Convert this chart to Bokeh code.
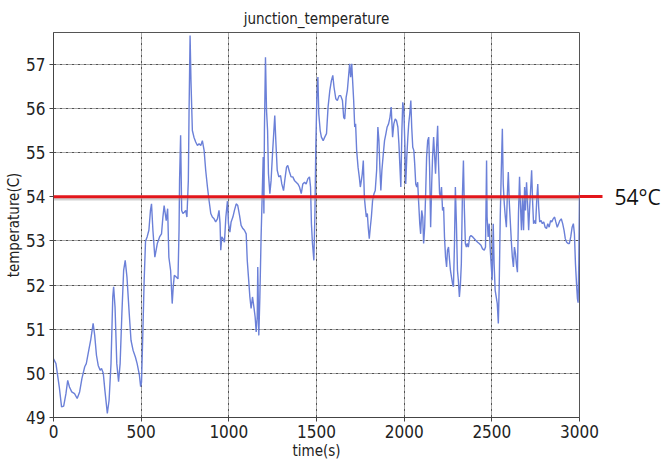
from bokeh.plotting import figure
from bokeh.models import Range1d, Span, FixedTicker, LinearAxis
from bokeh.embed import file_html
from bokeh.resources import INLINE

title_text = "junction_temperature"
x_label = "time(s)"
y_label = "temperature(C)"
threshold = 54
threshold_label = "54°C"
x_ticks = [0, 500, 1000, 1500, 2000, 2500, 3000]
y_ticks = [49, 50, 51, 52, 53, 54, 55, 56, 57]

time_s = [
    0, 14, 33, 46, 58, 71, 81, 91, 104, 120, 135, 149, 162, 178, 187, 201, 212, 226, 235, 245,
    255, 266, 274, 284, 293, 307, 317, 328, 338, 343, 351, 361, 371, 380, 390, 400, 409, 419, 432, 442,
    454, 467, 477, 490, 497, 502, 510, 517, 525, 534, 544, 553, 559, 567, 578, 592, 605, 616, 624, 631,
    643, 651, 658, 668, 677, 683, 689, 700, 710, 716, 719, 725, 731, 738, 746, 754, 761, 769, 773, 779,
    784, 792, 801, 811, 821, 830, 840, 849, 859, 868, 878, 887, 897, 906, 916, 925, 935, 944, 950, 954,
    960, 967, 975, 983, 992, 998, 1006, 1013, 1023, 1032, 1042, 1051, 1061, 1070, 1080, 1089, 1099, 1105, 1112, 1120,
    1127, 1135, 1143, 1150, 1156, 1162, 1165, 1171, 1177, 1184, 1190, 1196, 1200, 1203, 1209, 1215, 1221, 1226, 1234, 1241,
    1249, 1257, 1262, 1268, 1276, 1285, 1295, 1302, 1312, 1319, 1329, 1336, 1346, 1355, 1365, 1374, 1384, 1394, 1403, 1413,
    1422, 1432, 1441, 1451, 1460, 1466, 1471, 1477, 1485, 1491, 1496, 1502, 1508, 1513, 1521, 1528, 1538, 1547, 1557, 1566,
    1576, 1585, 1593, 1600, 1610, 1619, 1629, 1638, 1648, 1655, 1661, 1669, 1676, 1684, 1689, 1695, 1701, 1706, 1712, 1718,
    1723, 1729, 1737, 1744, 1750, 1756, 1761, 1767, 1773, 1778, 1784, 1790, 1795, 1801, 1807, 1813, 1820, 1828, 1835, 1843,
    1850, 1856, 1862, 1867, 1873, 1881, 1888, 1896, 1903, 1911, 1919, 1926, 1934, 1941, 1949, 1956, 1964, 1970, 1975, 1981,
    1987, 1992, 1998, 2004, 2009, 2015, 2021, 2026, 2032, 2038, 2043, 2049, 2055, 2060, 2066, 2072, 2077, 2083, 2089, 2094,
    2100, 2106, 2111, 2117, 2123, 2128, 2134, 2140, 2145, 2151, 2157, 2162, 2168, 2174, 2179, 2185, 2191, 2196, 2202, 2208,
    2213, 2219, 2225, 2230, 2236, 2242, 2247, 2253, 2259, 2264, 2270, 2276, 2281, 2287, 2292, 2298, 2304, 2309, 2315, 2321,
    2326, 2332, 2338, 2343, 2349, 2355, 2360, 2366, 2374, 2381, 2391, 2400, 2409, 2419, 2428, 2438, 2447, 2457, 2464, 2470,
    2473, 2479, 2485, 2490, 2496, 2502, 2508, 2513, 2519, 2525, 2531, 2537, 2542, 2548, 2554, 2560, 2565, 2571, 2577, 2583,
    2588, 2594, 2600, 2606, 2612, 2617, 2623, 2629, 2635, 2640, 2646, 2652, 2658, 2663, 2669, 2675, 2681, 2687, 2692, 2698,
    2704, 2710, 2715, 2721, 2727, 2733, 2738, 2744, 2750, 2756, 2762, 2767, 2773, 2781, 2788, 2796, 2804, 2812, 2819, 2827,
    2835, 2842, 2850, 2858, 2865, 2873, 2881, 2888, 2896, 2904, 2912, 2919, 2927, 2935, 2942, 2950, 2958, 2965, 2971, 2977,
    2983, 2988, 2992, 2996, 3000,
]

temperature_c = [
    50.33, 50.22, 49.69, 49.24, 49.26, 49.54, 49.84, 49.69, 49.58, 49.54, 49.43, 49.58, 49.88, 50.15, 50.22, 50.52, 50.75, 51.13, 50.86, 50.41,
    50.18, 50.07, 50.11, 50.00, 49.62, 49.09, 49.39, 50.22, 51.73, 51.96, 51.50, 50.22, 49.81, 50.22, 51.35, 52.33, 52.56, 52.18, 51.35, 50.75,
    50.52, 50.37, 50.22, 49.96, 49.70, 49.80, 50.98, 52.10, 53.00, 53.09, 53.24, 53.69, 53.84, 53.24, 52.63, 52.94, 53.09, 53.16, 53.54, 53.80,
    53.46, 53.73, 52.63, 52.33, 51.58, 51.96, 52.22, 52.18, 52.14, 53.24, 54.37, 55.39, 53.69, 53.62, 53.65, 53.69, 53.54, 54.37, 55.88, 57.65,
    56.63, 55.50, 55.35, 55.24, 55.16, 55.20, 55.16, 55.27, 55.05, 54.60, 54.22, 53.92, 53.62, 53.54, 53.50, 53.43, 53.50, 53.69, 53.39, 52.79,
    53.09, 53.05, 52.97, 53.54, 53.90, 53.39, 53.20, 53.43, 53.54, 53.69, 53.84, 53.80, 53.58, 53.35, 53.28, 53.24, 53.16, 52.56, 52.18, 51.73,
    51.47, 51.73, 51.50, 51.28, 50.94, 51.28, 52.41, 50.86, 51.73, 53.09, 53.99, 54.90, 53.62, 55.50, 57.16, 55.95, 55.50, 54.52, 54.07, 54.37,
    54.97, 55.50, 55.84, 55.27, 54.60, 54.45, 54.48, 54.29, 54.14, 54.37, 54.67, 54.71, 54.56, 54.45, 54.45, 54.37, 54.33, 54.29, 54.22, 54.07,
    54.29, 54.33, 54.29, 54.41, 54.45, 54.22, 53.39, 52.94, 52.56, 53.62, 55.12, 56.25, 56.71, 55.88, 55.50, 55.35, 55.27, 55.35, 55.43, 56.03,
    56.41, 56.63, 56.75, 56.48, 56.22, 56.18, 56.29, 56.29, 56.18, 55.80, 55.76, 56.25, 56.41, 56.78, 57.01, 56.71, 57.01, 56.63, 56.18, 55.58,
    55.65, 55.05, 54.67, 54.45, 54.22, 54.37, 54.52, 54.82, 53.99, 53.77, 53.54, 53.62, 53.31, 53.05, 53.31, 53.54, 53.92, 54.07, 54.14, 54.60,
    55.58, 55.27, 54.60, 54.14, 54.60, 54.97, 55.27, 55.43, 55.58, 55.65, 55.80, 56.03, 55.35, 55.65, 55.76, 55.73, 55.58, 55.20, 54.75, 54.22,
    55.50, 56.14, 55.95, 55.20, 54.29, 54.90, 55.35, 55.65, 55.88, 56.18, 55.58, 55.12, 55.05, 54.75, 54.29, 54.22, 54.33, 53.84, 53.39, 53.16,
    53.69, 53.54, 52.94, 53.31, 54.14, 54.90, 55.27, 55.35, 54.67, 53.31, 54.29, 54.90, 55.35, 54.90, 54.52, 55.12, 55.61, 54.75, 54.07, 53.99,
    54.22, 53.69, 53.77, 53.09, 52.63, 52.41, 52.79, 52.86, 52.56, 52.33, 52.18, 52.03, 51.96, 52.94, 54.22, 53.39, 52.33, 52.11, 51.73, 52.03,
    52.48, 53.99, 54.82, 53.77, 52.94, 52.86, 52.94, 52.86, 53.09, 53.12, 53.09, 53.05, 53.01, 52.97, 52.94, 52.90, 52.82, 52.79, 52.86, 54.82,
    53.54, 53.09, 53.39, 52.86, 52.48, 52.11, 53.39, 52.48, 51.88, 51.73, 51.58, 51.13, 51.96, 53.54, 54.60, 55.54, 54.29, 53.84, 53.54, 53.31,
    53.99, 54.56, 53.84, 53.39, 52.94, 52.63, 52.41, 52.86, 52.71, 52.48, 52.29, 53.62, 54.45, 53.84, 53.24, 53.99, 53.24, 54.22, 53.69, 54.33,
    53.84, 53.24, 53.69, 54.14, 54.60, 53.84, 53.39, 53.46, 53.39, 53.92, 54.29, 53.77, 53.43, 53.46, 53.39, 53.43, 53.31, 53.28, 53.39, 53.31,
    53.46, 53.43, 53.50, 53.54, 53.43, 53.31, 53.39, 53.46, 53.50, 53.39, 53.24, 53.05, 52.97, 52.94, 52.94, 53.09, 53.31, 53.39, 53.16, 52.48,
    52.03, 51.70, 51.60, 52.50, 54.10,
]

axis_font = "Liberation Sans Narrow, DejaVu Sans Condensed, Liberation Sans, sans-serif"
red_color = "#e3161b"

p = figure(
    width=665, height=468,
    output_backend="svg", toolbar_location=None,
    x_range=Range1d(x_ticks[0], x_ticks[-1]),
    y_range=Range1d(y_ticks[0], 57.72),
    min_border_left=53, min_border_right=86, min_border_top=32, min_border_bottom=51,
    title=title_text,
    background_fill_color="white", border_fill_color="white",
)

p.title.align = "center"
p.title.text_font = axis_font
p.title.text_font_size = "15px"
p.title.text_font_style = "normal"
p.title.text_color = "#222222"
p.title.standoff = 9

p.outline_line_color = "#555555"
p.outline_line_width = 1

for ax in (p.xaxis[0], p.yaxis[0]):
    ax.axis_line_color = "#444444"
    ax.major_tick_line_color = "#444444"
    ax.major_tick_out = 4
    ax.major_tick_in = 0
    ax.minor_tick_line_color = None
    ax.major_label_text_font = axis_font
    ax.major_label_text_font_size = "17px"
    ax.major_label_text_color = "#222222"
    ax.axis_label_text_font = axis_font
    ax.axis_label_text_font_size = "15px"
    ax.axis_label_text_font_style = "normal"
    ax.axis_label_text_color = "#222222"

p.xaxis[0].major_label_standoff = 3
p.yaxis[0].major_label_standoff = 4
p.xaxis[0].ticker = FixedTicker(ticks=x_ticks)
p.yaxis[0].ticker = FixedTicker(ticks=y_ticks)
p.xaxis[0].axis_label = x_label
p.yaxis[0].axis_label = y_label
p.xaxis[0].axis_label_standoff = 1
p.yaxis[0].axis_label_standoff = 0

for g in (p.xgrid[0], p.ygrid[0]):
    g.grid_line_color = "#333333"
    g.grid_line_dash = "3 1 1 1"
    g.grid_line_width = 1
    g.grid_line_alpha = 0.85

p.line(time_s, temperature_c, line_color="#6b80d8", line_width=1.4)

# threshold line inside the frame, with a faint shadow
p.add_layout(Span(location=threshold - 0.05, dimension="width",
                  line_color="#999999", line_alpha=0.45, line_width=3))
p.add_layout(Span(location=threshold, dimension="width",
                  line_color=red_color, line_width=3))

# right axis carries the threshold line's extension and its label
right_axis = LinearAxis(
    ticker=FixedTicker(ticks=[threshold]),
    major_label_overrides={threshold: threshold_label},
    axis_line_color=None,
    major_tick_line_color=red_color,
    major_tick_line_width=3,
    major_tick_out=23,
    major_tick_in=0,
    minor_tick_line_color=None,
    major_label_standoff=12,
    major_label_text_font="Open Sans",
    major_label_text_font_size="21px",
    major_label_text_color="#111111",
)
p.add_layout(right_axis, "right")

open("out.html", "w").write(file_html(p, INLINE))
